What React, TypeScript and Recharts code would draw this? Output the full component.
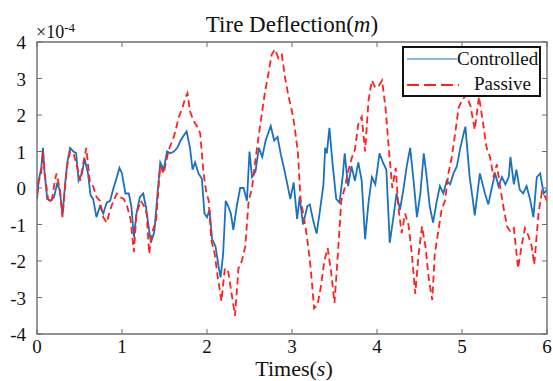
import { LineChart, Line, XAxis, YAxis, ReferenceArea } from 'recharts';

const WIDTH = 553;
const HEIGHT = 381;
const MARGIN = { top: 42, right: 6, bottom: 46, left: 36 };
const PLOT_LEFT = 37;
const PLOT_RIGHT = WIDTH - MARGIN.right;
const PLOT_TOP = MARGIN.top;
const PLOT_BOTTOM = 334;

const FONT = '"Liberation Serif", "Times New Roman", serif';
const AXIS_COLOR = '#6e6e6e';
const BLUE = '#1a72bf';
const RED = '#ff2020';

const xTicks = [0, 1, 2, 3, 4, 5, 6];
const yTicks = [-4, -3, -2, -1, 0, 1, 2, 3, 4];

// values in units of 1e-4 m
const controlledTime = [
  0.0, 0.02, 0.05, 0.07, 0.09, 0.12, 0.16, 0.2, 0.24, 0.27, 0.3, 0.33, 0.36, 0.39, 0.43, 0.46, 0.49, 0.53, 0.56, 0.6,
  0.63, 0.66, 0.7, 0.74, 0.78, 0.82, 0.86, 0.9, 0.94, 0.97, 1.0, 1.04, 1.08, 1.11, 1.14, 1.17, 1.21, 1.25, 1.28, 1.31,
  1.34, 1.38, 1.42, 1.45, 1.49, 1.53, 1.57, 1.61, 1.65, 1.69, 1.73, 1.76, 1.8, 1.83, 1.86, 1.9, 1.94, 1.97, 2.0, 2.03,
  2.06, 2.1, 2.14, 2.16, 2.19, 2.22, 2.25, 2.28, 2.31, 2.35, 2.39, 2.43, 2.47, 2.5, 2.53, 2.57, 2.61, 2.65, 2.69, 2.75,
  2.79, 2.83, 2.87, 2.91, 2.95, 2.98, 3.02, 3.06, 3.09, 3.13, 3.18, 3.21, 3.25, 3.29, 3.33, 3.37, 3.39, 3.41, 3.44, 3.48,
  3.52, 3.56, 3.6, 3.62, 3.66, 3.7, 3.74, 3.78, 3.82, 3.86, 3.9, 3.94, 3.98, 4.03, 4.07, 4.11, 4.15, 4.19, 4.23, 4.27,
  4.31, 4.35, 4.39, 4.43, 4.47, 4.51, 4.55, 4.58, 4.62, 4.66, 4.7, 4.74, 4.78, 4.82, 4.86, 4.9, 4.94, 4.98, 5.02, 5.04,
  5.09, 5.12, 5.15, 5.21, 5.27, 5.31, 5.35, 5.39, 5.43, 5.47, 5.51, 5.55, 5.57, 5.61, 5.64, 5.68, 5.72, 5.76, 5.8, 5.84,
  5.88, 5.92, 5.96, 6.0,
];
const controlledValue = [
  -0.3, 0.2, 0.55, 1.1, 0.4, -0.3, -0.35, -0.25, 0.15, -0.1, -0.75, 0.1, 0.75, 1.1, 1.0, 0.95, 0.2, 0.4, 0.8, 0.4,
  -0.2, -0.3, -0.8, -0.5, -0.7, -0.4, -0.35, 0.0, 0.3, 0.55, 0.4, -0.15, -0.15, -0.5, -1.35, -0.7, -0.25, -0.15, -0.5, -1.0,
  -1.5, -1.2, -0.1, 0.7, 0.5, 1.0, 0.95, 1.0, 1.1, 1.3, 1.45, 1.55, 1.1, 0.5, 0.7, 0.4, 0.25, -0.7, -0.8, -0.6,
  -1.4, -1.6, -2.2, -2.45, -1.8, -0.35, -0.5, -0.7, -1.15, -0.5, 0.0, 0.0, -0.35, 1.0, 0.3, 0.45, 1.1, 0.85, 1.3, 1.7,
  1.3, 1.4, 0.9, 0.5, 0.05, -0.3, 0.15, -0.85, -0.25, -1.0, -0.5, -0.45, -0.9, -1.25, -0.6, 0.1, 1.1, 0.95, 1.65, 0.6,
  -0.3, -0.4, 0.4, 0.95, 0.05, 0.6, 0.2, 0.7, 0.2, -1.4, -0.4, 0.3, 0.1, 0.95, 0.7, 0.5, -1.5, -0.85, -0.15, -0.6,
  -0.05, 0.6, 1.1, 0.2, -0.8, -0.15, 0.95, 0.4, -0.5, -0.95, -0.4, 0.05, -0.15, 0.2, 0.1, 0.4, 0.6, 1.1, 1.5, 1.68,
  0.3, -0.2, -0.75, 0.4, -0.15, -0.45, 0.0, 0.4, 0.05, 0.3, 0.1, 0.3, 0.85, 0.1, 0.5, -0.05, -0.15, 0.05, -0.3, -0.8,
  0.3, 0.4, -0.15, -0.05,
];

const passiveTime = [
  0.0, 0.02, 0.05, 0.07, 0.09, 0.13, 0.17, 0.21, 0.23, 0.27, 0.3, 0.35, 0.39, 0.43, 0.47, 0.51, 0.55, 0.58, 0.62, 0.66,
  0.7, 0.74, 0.78, 0.82, 0.86, 0.9, 0.94, 0.98, 1.02, 1.06, 1.1, 1.14, 1.17, 1.22, 1.26, 1.29, 1.32, 1.35, 1.4, 1.45,
  1.49, 1.55, 1.61, 1.67, 1.71, 1.75, 1.77, 1.8, 1.84, 1.88, 1.92, 1.96, 1.99, 2.02, 2.05, 2.09, 2.13, 2.17, 2.21, 2.25,
  2.29, 2.33, 2.37, 2.41, 2.45, 2.49, 2.53, 2.56, 2.6, 2.64, 2.68, 2.72, 2.76, 2.8, 2.84, 2.88, 2.92, 2.96, 3.0, 3.03,
  3.07, 3.1, 3.14, 3.18, 3.22, 3.26, 3.3, 3.34, 3.38, 3.42, 3.46, 3.5, 3.54, 3.58, 3.62, 3.66, 3.7, 3.74, 3.78, 3.82,
  3.86, 3.9, 3.94, 3.98, 4.02, 4.06, 4.1, 4.14, 4.18, 4.22, 4.25, 4.29, 4.33, 4.37, 4.41, 4.45, 4.49, 4.53, 4.57, 4.61,
  4.65, 4.68, 4.72, 4.76, 4.8, 4.84, 4.88, 4.92, 4.96, 5.0, 5.05, 5.1, 5.15, 5.2, 5.24, 5.29, 5.33, 5.37, 5.41, 5.45,
  5.49, 5.53, 5.57, 5.61, 5.66, 5.7, 5.74, 5.78, 5.82, 5.85, 5.9, 5.94, 5.97, 6.0,
];
const passiveValue = [
  -0.2, 0.2, 0.4, 1.0, 0.4, -0.3, -0.4, 0.2, 0.4, -0.05, -0.8, 0.55, 1.0, 0.95, 0.6, 0.2, 0.75, 1.1, 0.2, 0.05,
  -0.25, -0.35, -0.8, -0.95, -0.6, -0.35, -0.15, -0.25, -0.3, -0.5, -0.85, -1.75, -0.7, -0.35, -0.5, -0.7, -1.8, -1.25, -0.9, 0.6,
  0.4, 1.05, 1.4, 1.95, 2.2, 2.5, 2.6, 2.1, 1.85, 1.7, 1.5, 0.4, -0.1, -0.35, -1.42, -1.8, -2.5, -3.1, -2.2, -2.3,
  -2.9, -3.5, -2.2, -2.0, -1.6, -0.35, 0.0, 0.6, 1.3, 1.95, 2.6, 3.1, 3.65, 3.8, 3.55, 3.65, 3.0, 2.5, 2.1, 1.7,
  0.95, -0.3, -0.8, -1.4, -2.2, -3.3, -3.2, -2.7, -2.0, -1.65, -2.3, -3.15, -1.8, -0.35, 0.0, 0.45, 0.8, 1.05, 1.75, 1.95,
  1.0, 2.4, 2.95, 2.75, 2.8, 2.95, 2.2, 1.05, 0.0, 0.55, -0.5, -1.24, -0.7, -1.0, -1.8, -2.9, -1.8, -1.05, -1.6, -2.5,
  -3.07, -1.8, -1.2, -0.6, -0.35, 0.4, 0.85, 1.5, 2.2, 2.4, 2.55, 2.25, 1.6, 2.5, 1.9, 1.1, 0.85, 0.3, 0.65, 0.0,
  -0.55, -1.05, -1.2, -1.1, -2.2, -1.6, -1.1, -1.3, -1.6, -2.1, -0.7, -0.1, -0.2, -0.35,
];

const controlledData = controlledTime.map((t, i) => ({ t, v: controlledValue[i] }));
const passiveData = passiveTime.map((t, i) => ({ t, v: passiveValue[i] }));

const tickText = { fontFamily: FONT, fontSize: 19, fill: '#111' };

const XTick = ({ x, payload }: any) => (
  <g>
    <line x1={x} x2={x} y1={PLOT_BOTTOM} y2={PLOT_BOTTOM - 5} stroke={AXIS_COLOR} />
    <line x1={x} x2={x} y1={PLOT_TOP} y2={PLOT_TOP + 5} stroke={AXIS_COLOR} />
    <text x={x} y={PLOT_BOTTOM + 19} textAnchor="middle" style={tickText}>
      {payload.value}
    </text>
  </g>
);

const YTick = ({ y, payload }: any) => (
  <g>
    <line x1={PLOT_LEFT} x2={PLOT_LEFT + 5} y1={y} y2={y} stroke={AXIS_COLOR} />
    <line x1={PLOT_RIGHT - 5} x2={PLOT_RIGHT} y1={y} y2={y} stroke={AXIS_COLOR} />
    <text x={PLOT_LEFT - 11} y={y + 7} textAnchor="end" style={tickText}>
      {payload.value}
    </text>
  </g>
);

export default function App() {
  return (
    <div style={{ position: 'absolute', left: 0, top: 0, width: WIDTH, height: HEIGHT, background: '#fff', fontFamily: FONT, color: '#111', overflow: 'hidden' }}>
      <LineChart width={WIDTH} height={HEIGHT} margin={MARGIN}>
        <XAxis type="number" dataKey="t" domain={[0, 6]} ticks={xTicks} interval={0} allowDataOverflow
          height={1} axisLine={false} tickLine={false} tick={(p: any) => <XTick {...p} />} />
        <YAxis type="number" domain={[-4, 4]} ticks={yTicks} interval={0} allowDataOverflow
          width={1} axisLine={false} tickLine={false} tick={(p: any) => <YTick {...p} />} />
        <ReferenceArea x1={0} x2={6} y1={-4} y2={4} fill="none" stroke={AXIS_COLOR} strokeWidth={1.4} fillOpacity={0} />
        <Line data={controlledData} dataKey="v" type="linear" stroke={BLUE} strokeWidth={1.8}
          dot={false} isAnimationActive={false} />
        <Line data={passiveData} dataKey="v" type="linear" stroke={RED} strokeWidth={1.8}
          strokeDasharray="7 4" dot={false} isAnimationActive={false} />
      </LineChart>

      <div style={{ position: 'absolute', left: 0, width: 584, top: 10, textAlign: 'center', fontSize: 23, lineHeight: '30px' }}>
        Tire Deflection(<i>m</i>)
      </div>
      <div style={{ position: 'absolute', left: 0, width: 588, top: 357, textAlign: 'center', fontSize: 22, lineHeight: '23px' }}>
        Times(<i>s</i>)
      </div>
      <div style={{ position: 'absolute', left: 36, top: 21, fontSize: 18, lineHeight: '22px' }}>
        ×10<sup style={{ fontSize: 13, verticalAlign: 'top', position: 'relative', top: -4 }}>-4</sup>
      </div>

      <div style={{ position: 'absolute', left: 402, top: 46, width: 135, height: 47, border: '2px solid #111', background: '#fff', fontSize: 19 }}>
        <svg width={52} height={47} style={{ position: 'absolute', left: 3, top: 0 }}>
          <line x1={0} x2={50} y1={11} y2={11} stroke={BLUE} strokeWidth={1.2} />
          <line x1={0} x2={52} y1={37} y2={37} stroke={RED} strokeWidth={1.8} strokeDasharray="12 5" />
        </svg>
        <div style={{ position: 'absolute', left: 53, top: -1, lineHeight: '24px' }}>Controlled</div>
        <div style={{ position: 'absolute', left: 70, top: 24, lineHeight: '24px' }}>Passive</div>
      </div>
    </div>
  );
}
